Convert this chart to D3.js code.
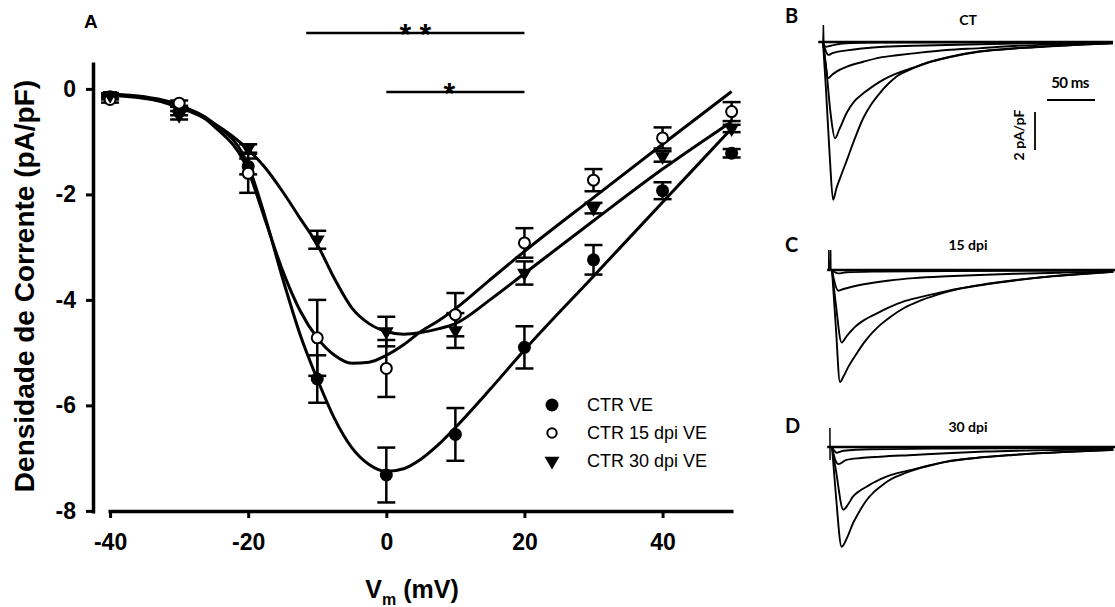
<!DOCTYPE html>
<html>
<head>
<meta charset="utf-8">
<script src="https://cdn.jsdelivr.net/npm/d3@7"></script>
<style>
  body { margin: 0; background: #fff; }
  svg { display: block; }
</style>
</head>
<body>
<svg id="chart" width="1115" height="607"></svg>
<script>
// ---- panel A: I-V data (mV, pA/pF) ----
const voltages = [-40, -30, -20, -10, 0, 10, 20, 30, 40, 50];
const ctrMean = [-0.15, -0.42, -1.47, -5.5, -7.32, -6.55, -4.9, -3.24, -1.93, -1.22];
const ctrErr = [0.05, 0.08, 0.15, 0.45, 0.52, 0.5, 0.4, 0.28, 0.16, 0.08];
const dpi15Mean = [-0.2, -0.27, -1.6, -4.72, -5.3, -4.28, -2.92, -1.73, -0.93, -0.43];
const dpi15Err = [0.06, 0.05, 0.37, 0.72, 0.54, 0.41, 0.28, 0.21, 0.2, 0.18];
const dpi30Mean = [-0.12, -0.5, -1.13, -2.86, -4.6, -4.58, -3.49, -2.26, -1.28, -0.75];
const dpi30Err = [0.04, 0.08, 0.08, 0.17, 0.28, 0.33, 0.22, 0.1, 0.1, 0.07];

// fitted curves
const fitV = [-40, -35, -30, -25, -20, -17.5, -15, -12.5, -10, -7.5, -5, -2.5, 0, 2.5, 5, 7.5, 10, 15, 20, 30, 40, 50];
const ctrFit = [-0.12, -0.18, -0.32, -0.65, -1.45, -2.45, -3.6, -4.65, -5.5, -6.25, -6.8, -7.12, -7.25, -7.2, -7.02, -6.75, -6.42, -5.7, -4.95, -3.55, -2.15, -0.75];
const dpi15Fit = [-0.1, -0.15, -0.3, -0.7, -1.55, -2.5, -3.45, -4.2, -4.72, -5.05, -5.2, -5.18, -5.05, -4.85, -4.6, -4.4, -4.17, -3.62, -3.08, -2.06, -1.05, -0.05];
const dpi30Fit = [-0.1, -0.17, -0.35, -0.65, -1.15, -1.5, -1.95, -2.45, -2.95, -3.6, -4.15, -4.45, -4.6, -4.65, -4.62, -4.55, -4.45, -4.0, -3.5, -2.5, -1.52, -0.62];

const seriesNames = ['CTR VE', 'CTR 15 dpi VE', 'CTR 30 dpi VE'];
const xTicks = [-40, -20, 0, 20, 40];
const yTicks = [0, -2, -4, -6, -8];
const sigFrom = [-11.6, 0];
const sigTo = [20, 20];
const sigLabels = ['* *', '*'];

// ---- panels B-D: current traces (ms, pA/pF) ----
const ctT1 = [0, 3, 7, 10.5, 14, 19, 25, 33, 42, 50, 59, 68, 77, 94, 110, 130, 164, 200, 233, 270, 302];
const ctI1 = [0, -2.4, -6, -8.3, -7.7, -7.0, -6.2, -5.1, -4.0, -3.3, -2.7, -2.2, -1.8, -1.38, -1.08, -0.82, -0.5, -0.34, -0.24, -0.14, -0.07];
const ctT2 = [0, 3, 8, 12.5, 17, 25, 33, 42, 50, 59, 68, 77, 94, 110, 130, 164, 200, 233, 270, 302];
const ctI2 = [0, -1.2, -3.8, -5.07, -4.6, -3.7, -3.1, -2.7, -2.4, -2.1, -1.85, -1.65, -1.35, -1.06, -0.8, -0.49, -0.33, -0.23, -0.14, -0.07];
const ctT3 = [0, 2, 5.6, 10, 14, 25, 42, 59, 77, 94, 129, 164, 198, 240, 302];
const ctI3 = [0, -0.9, -1.9, -1.7, -1.56, -1.3, -1.04, -0.82, -0.7, -0.6, -0.42, -0.32, -0.21, -0.13, -0.06];
const ctT4 = [0, 2, 5.6, 10, 25, 59, 94, 129, 200, 302];
const ctI4 = [0, -0.35, -0.68, -0.58, -0.44, -0.26, -0.2, -0.16, -0.08, -0.03];
const ctT5 = [0, 3, 8, 20, 60, 302];
const ctI5 = [0, -0.25, -0.2, -0.08, -0.03, 0];

const d15T1 = [0, 4, 8.3, 12, 17, 25, 33, 42, 50, 60, 75, 90, 110, 130, 155, 190, 230, 265, 293];
const d15I1 = [0, -3, -5.9, -5.6, -5.1, -4.45, -3.85, -3.3, -2.9, -2.5, -2.0, -1.65, -1.3, -1.02, -0.8, -0.55, -0.33, -0.2, -0.1];
const d15T2 = [0, 4, 10, 15, 25, 33, 42, 50, 60, 75, 90, 110, 130, 155, 190, 230, 265, 293];
const d15I2 = [0, -1.8, -3.82, -3.5, -2.95, -2.65, -2.4, -2.2, -1.95, -1.65, -1.45, -1.22, -1.0, -0.78, -0.54, -0.32, -0.19, -0.09];
const d15T3 = [0, 2, 6.6, 12, 33, 60, 85, 120, 154, 190, 240, 293];
const d15I3 = [0, -0.5, -1.09, -1.0, -0.75, -0.55, -0.43, -0.33, -0.26, -0.2, -0.14, -0.09];
const d15T4 = [0, 3, 6.6, 15, 50, 120, 293];
const d15I4 = [0, -0.12, -0.18, -0.12, -0.08, -0.05, -0.04];

const d30T1 = [0, 4, 10, 15, 22, 29, 36, 43, 50, 58, 67, 76, 85, 100, 119, 150, 189, 240, 293];
const d30I1 = [0, -2.5, -5.25, -4.85, -4.0, -3.35, -2.8, -2.4, -2.1, -1.8, -1.56, -1.37, -1.21, -1.0, -0.78, -0.58, -0.42, -0.27, -0.16];
const d30T2 = [0, 4, 11.8, 17, 22, 29, 36, 43, 50, 58, 67, 76, 85, 100, 119, 150, 189, 240, 293];
const d30I2 = [0, -1.2, -3.3, -3.0, -2.6, -2.3, -2.09, -1.88, -1.7, -1.53, -1.39, -1.28, -1.18, -0.98, -0.77, -0.57, -0.41, -0.26, -0.15];
const d30T3 = [0, 2, 6.6, 15, 30, 50, 85, 119, 160, 210, 293];
const d30I3 = [0, -0.45, -0.9, -0.68, -0.58, -0.51, -0.42, -0.33, -0.24, -0.18, -0.12];
const d30T4 = [0, 2, 5, 12, 40, 120, 293];
const d30I4 = [0, -0.18, -0.3, -0.2, -0.12, -0.08, -0.05];

const baseT = [-5, 302];
const scaleBarMs = 50;
const scaleBarCurrent = 2;

const svg = d3.select('#chart');
const arial = '"Liberation Sans", Arial, sans-serif';
const calib = 'Lato, "Open Sans", sans-serif';

// ---------- panel A ----------
const x = d3.scaleLinear().domain([-40.3, 50.2]).range([108, 733]);
const y = d3.scaleLinear().domain([0.51, -8.04]).range([62, 513]);

const xAxis = svg.append('g')
  .attr('transform', 'translate(0,511)')
  .call(d3.axisBottom(x).tickValues(xTicks).tickSize(7).tickSizeOuter(0).tickPadding(16).tickFormat(d => String(d)));
const yAxis = svg.append('g')
  .attr('transform', 'translate(93,0)')
  .call(d3.axisLeft(y).tickValues(yTicks).tickSize(7).tickSizeOuter(0).tickPadding(10).tickFormat(d => String(d)));

[xAxis, yAxis].forEach(g => {
  g.select('.domain').attr('stroke', '#000').attr('stroke-width', 3.5);
  g.selectAll('.tick line').attr('stroke', '#000').attr('stroke-width', 3);
  g.selectAll('.tick text').attr('fill', '#000')
    .style('font-family', arial).style('font-size', '23px').style('font-weight', 'bold');
});

// axis titles
svg.append('text')
  .attr('transform', 'translate(34,286) rotate(-90)')
  .attr('text-anchor', 'middle')
  .style('font-family', arial).style('font-size', '28px').style('font-weight', 'bold')
  .text('Densidade de Corrente (pA/pF)');

const xt = svg.append('text')
  .attr('x', 412).attr('y', 598)
  .attr('text-anchor', 'middle')
  .style('font-family', arial).style('font-size', '25px').style('font-weight', 'bold');
xt.append('tspan').text('V');
xt.append('tspan').attr('dy', 7).style('font-size', '16px').text('m');
xt.append('tspan').attr('dy', -7).text(' (mV)');

svg.append('text').attr('x', 84).attr('y', 28)
  .style('font-family', arial).style('font-size', '19px').style('font-weight', 'bold').text('A');

// significance bars
const sigY = [33, 92];
sigLabels.forEach((lab, i) => {
  svg.append('line')
    .attr('x1', x(sigFrom[i])).attr('x2', x(sigTo[i]))
    .attr('y1', sigY[i]).attr('y2', sigY[i])
    .attr('stroke', '#000').attr('stroke-width', 2.5);
  svg.append('text')
    .attr('x', (x(sigFrom[i]) + x(sigTo[i])) / 2 + (i === 0 ? 0 : -6))
    .attr('y', sigY[i] + 11)
    .attr('text-anchor', 'middle')
    .style('font-family', arial).style('font-size', '30px').style('font-weight', 'bold')
    .text(lab);
});

// fitted curves
const fitLine = d3.line().x(d => x(d[0])).y(d => y(d[1])).curve(d3.curveMonotoneX);
[ctrFit, dpi15Fit, dpi30Fit].forEach(f => {
  svg.append('path')
    .datum(fitV.map((v, i) => [v, f[i]]))
    .attr('d', fitLine)
    .attr('fill', 'none').attr('stroke', '#000').attr('stroke-width', 3);
});

// error bars then markers
const series = [
  { mean: ctrMean, err: ctrErr, kind: 'filled' },
  { mean: dpi15Mean, err: dpi15Err, kind: 'open' },
  { mean: dpi30Mean, err: dpi30Err, kind: 'tri' }
];
const capW = 9;
series.forEach(s => {
  const g = svg.append('g');
  voltages.forEach((v, i) => {
    const cx = x(v), top = y(s.mean[i] + s.err[i]), bot = y(s.mean[i] - s.err[i]);
    g.append('line').attr('x1', cx).attr('x2', cx).attr('y1', top).attr('y2', bot)
      .attr('stroke', '#000').attr('stroke-width', 2.5);
    [top, bot].forEach(yy => g.append('line')
      .attr('x1', cx - capW).attr('x2', cx + capW).attr('y1', yy).attr('y2', yy)
      .attr('stroke', '#000').attr('stroke-width', 2.5));
  });
});

function marker(g, kind, cx, cy, scale) {
  if (kind === 'filled') {
    g.append('circle').attr('cx', cx).attr('cy', cy).attr('r', 6.5 * scale).attr('fill', '#000');
  } else if (kind === 'open') {
    g.append('circle').attr('cx', cx).attr('cy', cy).attr('r', 5.5 * scale)
      .attr('fill', '#fff').attr('stroke', '#000').attr('stroke-width', 2);
  } else {
    g.append('path').attr('d', d3.symbol(d3.symbolTriangle, 95 * scale * scale)())
      .attr('transform', `translate(${cx},${cy}) rotate(180)`).attr('fill', '#000');
  }
}
series.forEach(s => {
  const g = svg.append('g');
  voltages.forEach((v, i) => marker(g, s.kind, x(v), y(s.mean[i]), 1));
});

// legend
const legend = svg.append('g');
seriesNames.forEach((name, i) => {
  const ly = 405 + i * 28;
  marker(legend, series[i].kind, 552, ly, i === 1 ? 0.85 : 1);
  legend.append('text').attr('x', 587).attr('y', ly).attr('dy', '0.36em')
    .style('font-family', arial).style('font-size', '18px').text(name);
});

// ---------- panels B, C, D ----------
const traceLine = (xs, ys) => d3.line().x(d => xs(d[0])).y(d => ys(d[1])).curve(d3.curveMonotoneX);
const panels = [
  { letter: 'B', title: 'CT', x0: 823, base: 42, letterY: 23, titleY: 25,
    traces: [[baseT, [0, 0]], [ctT5, ctI5], [ctT4, ctI4], [ctT3, ctI3], [ctT2, ctI2], [ctT1, ctI1]],
    art: [[0, 0], [0.4, 0.9], [0.8, 0]] },
  { letter: 'C', title: '15 dpi', x0: 832, base: 270, letterY: 252, titleY: 250,
    traces: [[baseT, [0, 0]], [d15T4, d15I4], [d15T3, d15I3], [d15T2, d15I2], [d15T1, d15I1]],
    art: [[-3.5, 0], [-3.3, 1.05], [-3.1, 0], [-1.6, 0], [-1.4, 1.05], [-1.2, 0]] },
  { letter: 'D', title: '30 dpi', x0: 832, base: 447, letterY: 433, titleY: 432,
    traces: [[baseT, [0, 0]], [d30T4, d30I4], [d30T3, d30I3], [d30T2, d30I2], [d30T1, d30I1]],
    art: [[-2.2, 1.0], [-2.0, -0.68]] }
];

panels.forEach(p => {
  const xs = d3.scaleLinear().domain([0, 300]).range([p.x0, p.x0 + 288]);
  const ys = d3.scaleLinear().domain([0, -8.5]).range([p.base, p.base + 161.5]);
  const g = svg.append('g');
  g.append('text').attr('x', 785).attr('y', p.letterY)
    .style('font-family', calib).style('font-size', '20px').style('font-weight', 'bold').text(p.letter);
  g.append('text').attr('x', 968).attr('y', p.titleY).attr('text-anchor', 'middle')
    .style('font-family', calib).style('font-size', '14px').style('font-weight', 'bold').text(p.title);
  p.traces.forEach(([ts, is], k) => {
    g.append('path').datum(ts.map((t, i) => [t, is[i]]))
      .attr('d', traceLine(xs, ys))
      .attr('fill', 'none').attr('stroke', '#000').attr('stroke-width', k === 0 ? 2.6 : 1.9);
  });
  g.append('path').datum(p.art)
    .attr('d', d3.line().x(d => xs(d[0])).y(d => ys(d[1])))
    .attr('fill', 'none').attr('stroke', '#000').attr('stroke-width', 1.5);

  if (p.letter === 'B') {
    // scale bars
    const sx = 1047, sy = 100;
    g.append('line').attr('x1', sx).attr('x2', sx + xs(scaleBarMs) - xs(0))
      .attr('y1', sy).attr('y2', sy).attr('stroke', '#000').attr('stroke-width', 1.8);
    g.append('text').attr('x', 1070).attr('y', 88).attr('text-anchor', 'middle')
      .style('font-family', calib).style('font-size', '15px').style('font-weight', 'bold')
      .style('letter-spacing', '-0.5px').text('50 ms');
    const vx = 1035, vy = 112;
    g.append('line').attr('x1', vx).attr('x2', vx)
      .attr('y1', vy).attr('y2', vy + ys(-scaleBarCurrent) - ys(0))
      .attr('stroke', '#000').attr('stroke-width', 1.8);
    g.append('text').attr('transform', 'translate(1024,135) rotate(-90)').attr('text-anchor', 'middle')
      .style('font-family', calib).style('font-size', '14px').style('font-weight', 'bold')
      .text('2 pA/pF');
  }
});
</script>
</body>
</html>
